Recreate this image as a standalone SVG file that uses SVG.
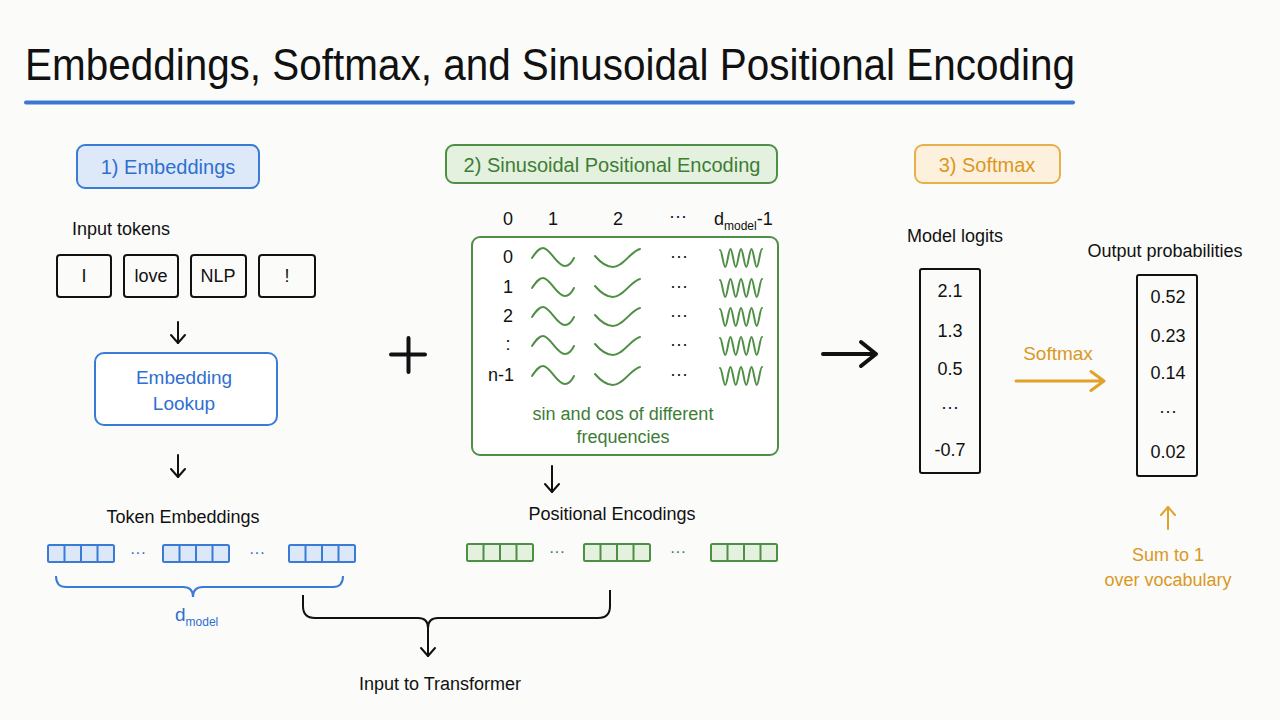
<svg xmlns="http://www.w3.org/2000/svg" width="1280" height="720" viewBox="0 0 1280 720">
<defs>
<style>
text{font-family:"Liberation Sans","DejaVu Sans",sans-serif;fill:#111}
.c{text-anchor:middle}
.h{font-size:20px}
.t{font-size:18px}
.b{fill:#2f6fd0}
.g{fill:#3d7d35}
.o{fill:#d9981f}
.bs{stroke:#3a7bd5;stroke-width:2;fill:none}
.gs{stroke:#4f8f45;stroke-width:2;fill:none}
.ks{stroke:#111;stroke-width:2;fill:none}
.cell-b{fill:#dce8f8;stroke:#3a7bd5;stroke-width:2}
.cell-g{fill:#e4f1de;stroke:#4f8f45;stroke-width:2}
.wave{fill:none;stroke:#4f8f45;stroke-width:2;stroke-linecap:round}
.wave2{fill:none;stroke:#4f8f45;stroke-width:2;stroke-linecap:round;stroke-linejoin:round}
</style>
<marker id="ak" viewBox="0 0 16 16" refX="14" refY="8" markerWidth="16" markerHeight="16" markerUnits="userSpaceOnUse" orient="auto">
<path d="M6,1 L14,8 L6,15" fill="none" stroke="#111" stroke-width="2" stroke-linecap="round" stroke-linejoin="round"/>
</marker>
<marker id="ao" viewBox="0 0 16 16" refX="14" refY="8" markerWidth="16" markerHeight="16" markerUnits="userSpaceOnUse" orient="auto">
<path d="M6,1 L14,8 L6,15" fill="none" stroke="#e0a22a" stroke-width="2" stroke-linecap="round" stroke-linejoin="round"/>
</marker>
<path id="w1" class="wave" d="M0,1 C4,-5 7,-9 11,-9 C18,-9 25,9 33,9 C37,9 40,5 42,1"/>
<path id="w2" class="wave" d="M0,-1 C6,6 12,10 18,10 C28,10 36,-6 45,-8"/>
<path id="w3" class="wave2" d="M0,-8 C1.9,-8 3.4,9 5.25,9 S8.6,-9 10.5,-9 S13.9,9 15.75,9 S19.1,-9 21,-9 S24.4,9 26.25,9 S29.6,-9 31.5,-9 S34.9,9 36.75,9 S40.1,-9 42,-9"/>
<g id="vb">
<rect class="cell-b" x="0" y="0" width="66" height="17" rx="1.5"/>
<path d="M16.5,0 V17 M33,0 V17 M49.5,0 V17" stroke="#3a7bd5" stroke-width="2"/>
</g>
<g id="vg">
<rect class="cell-g" x="0" y="0" width="66" height="17" rx="1.5"/>
<path d="M16.5,0 V17 M33,0 V17 M49.5,0 V17" stroke="#4f8f45" stroke-width="2"/>
</g>
</defs>

<rect width="1280" height="720" fill="#fbfbfa"/>

<g id="title">
<text x="25" y="80" font-size="44" textLength="1050" lengthAdjust="spacingAndGlyphs">Embeddings, Softmax, and Sinusoidal Positional Encoding</text>
<line x1="26" y1="102.5" x2="1073" y2="102.5" stroke="#3a78d4" stroke-width="4" stroke-linecap="round"/>
</g>

<g id="sec1-header">
<rect x="77" y="145" width="182" height="43" rx="8" fill="#dde9f8" stroke="#3a7bd5" stroke-width="2"/>
<text class="c h b" x="168" y="174">1) Embeddings</text>
</g>

<g id="input-tokens">
<text class="c t" x="121" y="235">Input tokens</text>
<rect class="ks" x="57" y="255" width="54" height="42" rx="3"/>
<text class="c t" x="84" y="282">I</text>
<rect class="ks" x="124" y="255" width="54" height="42" rx="3"/>
<text class="c t" x="151" y="282">love</text>
<rect class="ks" x="191" y="255" width="55" height="42" rx="3"/>
<text class="c t" x="218" y="282">NLP</text>
<rect class="ks" x="259" y="255" width="56" height="42" rx="3"/>
<text class="c t" x="287" y="282">!</text>
</g>

<g id="embedding-lookup">
<rect x="95" y="353" width="182" height="72" rx="9" fill="#ffffff" stroke="#3a7bd5" stroke-width="2"/>
<text class="c b" x="184" y="384" font-size="19">Embedding</text>
<text class="c b" x="184" y="410" font-size="19">Lookup</text>
</g>

<g id="token-embeddings">
<text class="c t" x="183" y="523">Token Embeddings</text>
<use href="#vb" x="48" y="545"/>
<text class="c b" x="138" y="558" font-size="16">···</text>
<use href="#vb" x="163" y="545"/>
<text class="c b" x="257" y="558" font-size="16">···</text>
<use href="#vb" x="289" y="545"/>
<path class="bs" d="M56,576 Q56,587 66,587 L183,587 Q193,587 193,597 Q193,587 203,587 L333,587 Q343,587 343,576"/>
<text class="b" x="175" y="621" font-size="19">d<tspan font-size="12" dy="5">model</tspan></text>
</g>

<g id="plus">
<path d="M391,354.5 H425 M408.5,338 V372" stroke="#111" stroke-width="4" stroke-linecap="round"/>
</g>

<g id="sec2-header">
<rect x="446" y="145" width="331" height="38" rx="8" fill="#e4f1de" stroke="#4f8f45" stroke-width="2"/>
<text class="c h g" x="612" y="172">2) Sinusoidal Positional Encoding</text>
</g>

<g id="pe-matrix">
<text class="c t" x="508" y="225">0</text>
<text class="c t" x="553" y="225">1</text>
<text class="c t" x="618" y="225">2</text>
<text class="c t" x="678" y="222">···</text>
<text class="t" x="714" y="225">d<tspan font-size="12" dy="5">model</tspan><tspan dy="-5">-1</tspan></text>
<rect x="472" y="237" width="306" height="218" rx="8" fill="#ffffff" stroke="#4f8f45" stroke-width="2"/>
<text class="c t" x="508" y="263">0</text>
<text class="c t" x="508" y="293">1</text>
<text class="c t" x="508" y="322">2</text>
<text class="c t" x="508" y="350">:</text>
<text class="c t" x="501" y="381">n-1</text>
<use href="#w1" x="532" y="257"/>
<use href="#w1" x="532" y="287"/>
<use href="#w1" x="532" y="316"/>
<use href="#w1" x="532" y="345"/>
<use href="#w1" x="532" y="375"/>
<use href="#w2" x="595" y="257"/>
<use href="#w2" x="595" y="287"/>
<use href="#w2" x="595" y="316"/>
<use href="#w2" x="595" y="345"/>
<use href="#w2" x="595" y="375"/>
<text class="c t" x="679" y="262">···</text>
<text class="c t" x="679" y="292">···</text>
<text class="c t" x="679" y="321">···</text>
<text class="c t" x="679" y="350">···</text>
<text class="c t" x="679" y="380">···</text>
<use href="#w3" x="720" y="258"/>
<use href="#w3" x="720" y="288"/>
<use href="#w3" x="720" y="317"/>
<use href="#w3" x="720" y="346"/>
<use href="#w3" x="720" y="376"/>
<text class="c g" x="623" y="420" font-size="18">sin and cos of different</text>
<text class="c g" x="623" y="443" font-size="18">frequencies</text>
</g>

<g id="positional-encodings">
<text class="c t" x="612" y="520">Positional Encodings</text>
<use href="#vg" x="467" y="544"/>
<text class="c g" x="557" y="557" font-size="16">···</text>
<use href="#vg" x="584" y="544"/>
<text class="c g" x="678" y="557" font-size="16">···</text>
<use href="#vg" x="711" y="544"/>
</g>

<g id="input-to-transformer">
<text class="c t" x="440" y="690">Input to Transformer</text>
</g>

<g id="sec3-header">
<rect x="915" y="145" width="145" height="38" rx="8" fill="#fdf1de" stroke="#e8b04a" stroke-width="2"/>
<text class="c h o" x="987" y="172">3) Softmax</text>
</g>

<g id="model-logits">
<text class="c t" x="955" y="242">Model logits</text>
<rect class="ks" x="920" y="269" width="60" height="204" rx="2"/>
<text class="c t" x="950" y="297">2.1</text>
<text class="c t" x="950" y="337">1.3</text>
<text class="c t" x="950" y="375">0.5</text>
<text class="c t" x="950" y="413">···</text>
<text class="c t" x="950" y="456">-0.7</text>
</g>

<g id="output-probabilities">
<text class="c t" x="1165" y="257">Output probabilities</text>
<rect class="ks" x="1137" y="275" width="60" height="201" rx="2"/>
<text class="c t" x="1168" y="303">0.52</text>
<text class="c t" x="1168" y="342">0.23</text>
<text class="c t" x="1168" y="379">0.14</text>
<text class="c t" x="1168" y="417">···</text>
<text class="c t" x="1168" y="458">0.02</text>
</g>

<g id="sum-note">
<text class="c o t" x="1168" y="561">Sum to 1</text>
<text class="c o t" x="1168" y="586">over vocabulary</text>
</g>

<g id="connectors">
<line x1="178" y1="322" x2="178" y2="343" stroke="#111" stroke-width="2" stroke-linecap="round" marker-end="url(#ak)"/>
<line x1="178" y1="455" x2="178" y2="477" stroke="#111" stroke-width="2" stroke-linecap="round" marker-end="url(#ak)"/>
<line x1="552" y1="466" x2="552" y2="492" stroke="#111" stroke-width="2" stroke-linecap="round" marker-end="url(#ak)"/>
<path class="ks" d="M303,595 V606 Q303,618 315,618 H418 Q428,618 428,628 Q428,618 438,618 H598 Q610,618 610,606 V590"/>
<line x1="428" y1="628" x2="428" y2="656" stroke="#111" stroke-width="2" stroke-linecap="round" marker-end="url(#ak)"/>
<path d="M823,354 H876 M861,342 L876,354 L861,366" fill="none" stroke="#111" stroke-width="4" stroke-linecap="round" stroke-linejoin="round"/>
<path d="M1016,381 H1104 M1091,371.5 L1104,381 L1091,390.5" fill="none" stroke="#e0a22a" stroke-width="3" stroke-linecap="round" stroke-linejoin="round"/>
<text class="c o" x="1058" y="360" font-size="19">Softmax</text>
<line x1="1168" y1="529" x2="1168" y2="507" stroke="#e0a22a" stroke-width="2" stroke-linecap="round" marker-end="url(#ao)"/>
</g>
</svg>
